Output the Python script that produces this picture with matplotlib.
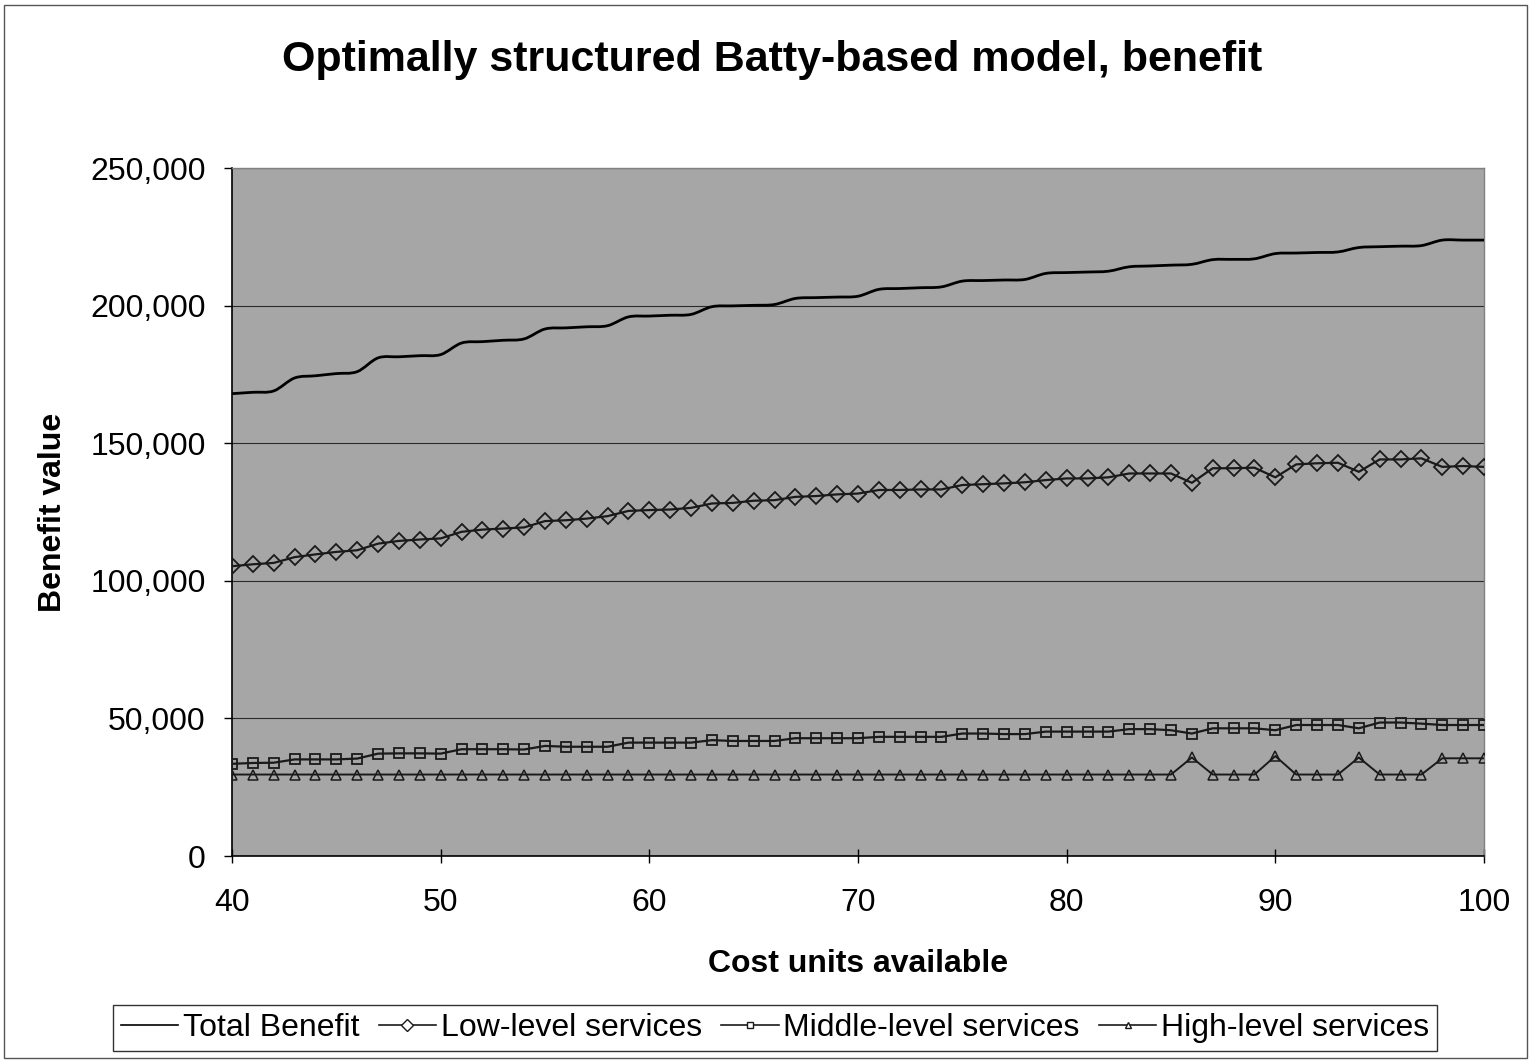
import matplotlib
matplotlib.use("Agg")
import matplotlib.pyplot as plt
from matplotlib.ticker import FuncFormatter, MultipleLocator
from matplotlib.patches import Rectangle, PathPatch
from matplotlib.path import Path
from matplotlib.lines import Line2D

plt.rcParams['font.family'] = ['Liberation Sans', 'DejaVu Sans']

# Cost units available (x axis)
cost = list(range(40, 101))

total_benefit = [
    168000, 168500, 169000, 173700, 174500, 175300, 176000, 181000, 181400, 181800,
    182200, 186400, 186900, 187400, 187900, 191500, 191900, 192300, 192700, 195900,
    196200, 196500, 196800, 199600, 199900, 200100, 200400, 202600, 202900, 203100,
    203400, 205900, 206200, 206500, 206800, 208900, 209100, 209300, 209500, 211700,
    212000, 212200, 212500, 214100, 214400, 214700, 215000, 216700, 216800, 217000,
    218900, 219100, 219300, 219500, 221100, 221400, 221600, 221800, 223800, 223800,
    223800,
]

low_level = [
    105300, 106000, 106500, 108600, 109600, 110500, 111100, 113500, 114500, 115000,
    115400, 117800, 118600, 119000, 119400, 121700, 122000, 122600, 123500, 125400,
    125700, 125900, 126500, 128100, 128300, 129100, 129300, 130500, 130800, 131400,
    131700, 133000, 133000, 133200, 133200, 134800, 135100, 135400, 135800, 136600,
    137200, 137200, 137600, 139000, 139000, 139000, 135600, 140900, 140900, 141100,
    137600, 142300, 142700, 142900, 139600, 144100, 144100, 144500, 141400, 141700,
    141400,
]

middle_level = [
    33500, 33800, 33900, 35100, 35100, 35100, 35400, 37200, 37300, 37300,
    37200, 38800, 38800, 38800, 38700, 40000, 39700, 39700, 39700, 41200,
    41200, 41200, 41200, 42100, 41800, 41800, 41800, 42800, 42800, 42800,
    42800, 43300, 43300, 43300, 43300, 44500, 44500, 44300, 44300, 45200,
    45200, 45200, 45200, 46100, 46100, 45700, 44500, 46400, 46400, 46400,
    45700, 47600, 47600, 47600, 46400, 48500, 48500, 48100, 47600, 47600,
    47600,
]

high_level = [
    29600, 29600, 29600, 29600, 29600, 29600, 29600, 29600, 29600, 29600,
    29600, 29600, 29600, 29600, 29600, 29600, 29600, 29600, 29600, 29600,
    29600, 29600, 29600, 29600, 29600, 29600, 29600, 29600, 29600, 29600,
    29600, 29600, 29600, 29600, 29600, 29600, 29600, 29600, 29600, 29600,
    29600, 29600, 29600, 29600, 29600, 29600, 35800, 29600, 29600, 29600,
    36300, 29600, 29600, 29600, 35800, 29600, 29600, 29600, 35500, 35500,
    35500,
]


def smooth_path(xs, ys):
    """Cubic Bezier path through every data point (Catmull-Rom style tangents)."""
    verts = [(xs[0], ys[0])]
    codes = [Path.MOVETO]
    n = len(xs)
    for i in range(n - 1):
        x0, y0 = (xs[i - 1], ys[i - 1]) if i > 0 else (xs[i], ys[i])
        x1, y1 = xs[i], ys[i]
        x2, y2 = xs[i + 1], ys[i + 1]
        x3, y3 = (xs[i + 2], ys[i + 2]) if i + 2 < n else (x2, y2)
        c1 = (x1 + (x2 - x0) / 6, y1 + (y2 - y0) / 6)
        c2 = (x2 - (x3 - x1) / 6, y2 - (y3 - y1) / 6)
        verts += [c1, c2, (x2, y2)]
        codes += [Path.CURVE4] * 3
    return Path(verts, codes)


W, H = 1533, 1061
fig = plt.figure(figsize=(W / 100, H / 100), dpi=100)
fig.patch.set_facecolor('white')

# outer chart border
fig.patches.append(Rectangle((4 / W, 3 / H), 1523 / W, 1053 / H, transform=fig.transFigure,
                             fill=False, edgecolor='#555555', linewidth=1.0))

left, right = 232 / W, 1484 / W
bottom, top = 1 - 856 / H, 1 - 168 / H
ax = fig.add_axes([left, bottom, right - left, top - bottom])
ax.set_facecolor('#a6a6a6')

total_patch = PathPatch(smooth_path(cost, total_benefit), fill=False,
                        edgecolor='black', linewidth=2.0, zorder=4, capstyle='butt')
ax.add_patch(total_patch)

ax.plot(cost, low_level, color='#1a1a1a', linewidth=1.6, marker='D', markersize=8.5,
        markerfacecolor='none', markeredgecolor='#1a1a1a', markeredgewidth=1.3, zorder=4)
ax.plot(cost, middle_level, color='#1a1a1a', linewidth=1.6, marker='s', markersize=7,
        markerfacecolor='none', markeredgecolor='#1a1a1a', markeredgewidth=1.3, zorder=4)
ax.plot(cost, high_level, color='#1a1a1a', linewidth=1.4, marker='^', markersize=7,
        markerfacecolor='none', markeredgecolor='#1a1a1a', markeredgewidth=1.1, zorder=4)

ax.set_xlim(40, 100)
ax.set_ylim(0, 250000)
ax.xaxis.set_major_locator(MultipleLocator(10))
ax.yaxis.set_major_locator(MultipleLocator(50000))
ax.yaxis.set_major_formatter(FuncFormatter(lambda v, p: f"{int(v):,}"))

ax.grid(axis='y', color='#2a2a2a', linewidth=0.8, zorder=1)
ax.set_axisbelow(True)

for s in ('left', 'bottom'):
    ax.spines[s].set_color('black')
    ax.spines[s].set_linewidth(1.2)
for s in ('top', 'right'):
    ax.spines[s].set_color('#808080')
    ax.spines[s].set_linewidth(1.0)

ax.tick_params(axis='y', direction='out', length=6, width=1, pad=13, labelsize=23)
ax.tick_params(axis='x', direction='inout', length=10, width=1, pad=18, labelsize=23)

ax.set_xlabel('Cost units available', fontsize=23, fontweight='bold', labelpad=22)
ax.set_ylabel('Benefit value', fontsize=23, fontweight='bold', labelpad=16)

fig.text(772 / W, 1 - 60 / H, 'Optimally structured Batty-based model, benefit',
         ha='center', va='center', fontsize=31, fontweight='bold')

handles = [
    Line2D([], [], color='black', linewidth=1.2),
    Line2D([], [], color='#1a1a1a', linewidth=1.2, marker='D', markersize=6,
           markerfacecolor='white', markeredgecolor='#1a1a1a'),
    Line2D([], [], color='#1a1a1a', linewidth=1.2, marker='s', markersize=5,
           markerfacecolor='white', markeredgecolor='#1a1a1a'),
    Line2D([], [], color='#1a1a1a', linewidth=1.2, marker='^', markersize=5,
           markerfacecolor='white', markeredgecolor='#1a1a1a'),
]
labels = ['Total Benefit', 'Low-level services', 'Middle-level services', 'High-level services']
leg = fig.legend(handles, labels, loc='center', bbox_to_anchor=(775 / W, 1 - 1028 / H), ncol=4,
                 fontsize=23, frameon=True, fancybox=False, numpoints=1,
                 handlelength=1.8, handletextpad=0.15, columnspacing=0.6,
                 borderpad=0.25, borderaxespad=0)
leg.get_frame().set_edgecolor('black')
leg.get_frame().set_linewidth(1.0)

fig.savefig('out.png', dpi=100, facecolor='white')
